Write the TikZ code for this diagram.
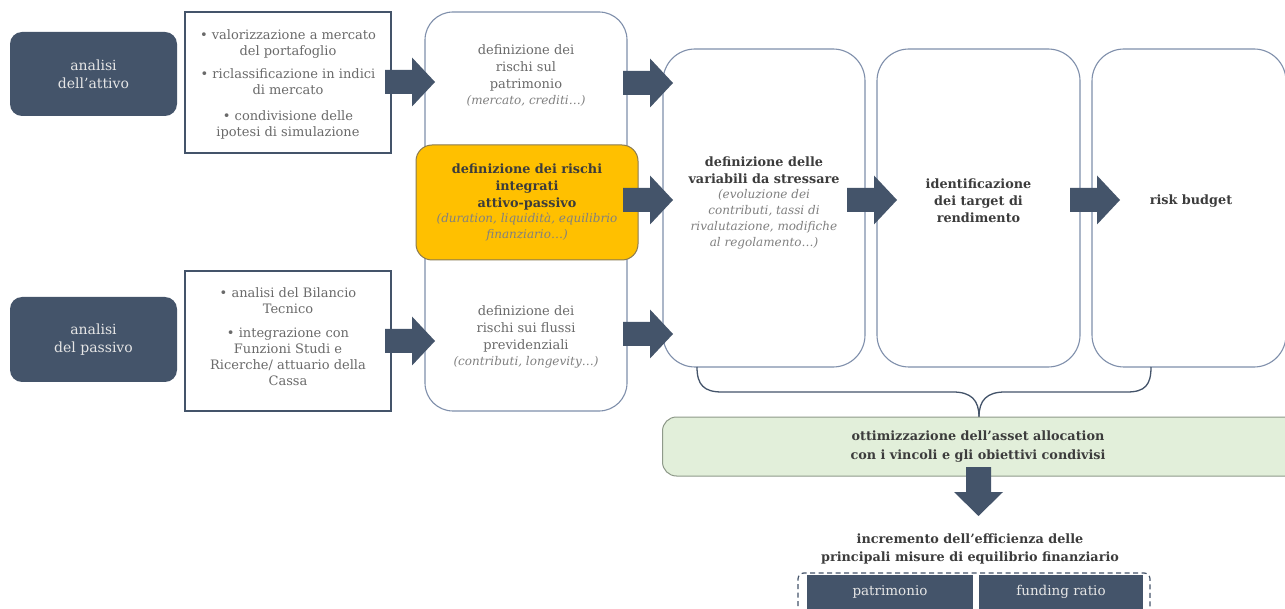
\documentclass[tikz,border=0pt]{standalone}
\usepackage{fontspec}
\setmainfont{DejaVu Serif}
\definecolor{slate}{HTML}{44546A}
\definecolor{boxblue}{HTML}{7F8FAB}
\definecolor{txtgray}{HTML}{6A6A6A}
\definecolor{itgray}{HTML}{808080}
\definecolor{boldtxt}{HTML}{3C3C3C}
\definecolor{orangefill}{HTML}{FFC000}
\definecolor{orangeline}{HTML}{8A7A50}
\definecolor{greenfill}{HTML}{E2EFDA}
\definecolor{greenline}{HTML}{8F9A8A}
\definecolor{lighttxt}{HTML}{E6E6E6}
\newcommand{\rarr}[2]{\fill[slate] (#1-50,#2-12) -- (#1-23,#2-12) -- (#1-23,#2-24.5) -- (#1,#2) -- (#1-23,#2+24.5) -- (#1-23,#2+12) -- (#1-50,#2+12) -- cycle;}
\newcommand{\darr}[2]{\fill[slate] (#1-12.5,#2-49) -- (#1+12.5,#2-49) -- (#1+12.5,#2-24) -- (#1+24.5,#2-24) -- (#1,#2) -- (#1-24.5,#2-24) -- (#1-12.5,#2-24) -- cycle;}
\tikzset{
  darkbox/.style={rectangle, rounded corners=12pt, fill=slate, draw=none, text=lighttxt, align=center,
    font=\fontsize{14}{18}\selectfont, inner sep=0pt},
  listbox/.style={rectangle, draw=slate, line width=1.3pt, fill=white, inner sep=0pt},
  listtext/.style={align=center, text=txtgray, font=\fontsize{13}{16}\selectfont, inner sep=0pt},
  colbox/.style={rectangle, draw=boxblue, line width=1.1pt, rounded corners=28pt, fill=white, inner sep=0pt},
  plaintext/.style={align=center, text=txtgray, font=\fontsize{13}{17}\selectfont, inner sep=0pt},
  boldtext/.style={align=center, text=boldtxt, font=\fontsize{12.8}{17}\selectfont\bfseries, inner sep=0pt},
  orangebox/.style={rectangle, rounded corners=16pt, fill=orangefill, draw=orangeline, line width=1pt, inner sep=0pt},
  greenbox/.style={rectangle, rounded corners=14pt, fill=greenfill, draw=greenline, line width=1pt, inner sep=0pt},
  brace/.style={draw=slate, line width=1.3pt},
  measbox/.style={rectangle, fill=slate, draw=none, text=lighttxt, font=\fontsize{13.5}{16}\selectfont, inner sep=0pt},
}
\newcommand{\itl}[1]{{\fontsize{12}{15.5}\selectfont\mdseries\itshape\color{itgray}#1}}
\begin{document}
\begin{tikzpicture}[x=1pt,y=-1pt]
\useasboundingbox (0,0) rectangle (1285,609);
\clip (0,0) rectangle (1285,609);
\fill[white] (0,0) rectangle (1285,609);

% left dark boxes
\node[darkbox, minimum width=167pt, minimum height=84pt] (attivo) at (93.5,74) {analisi\\dell’attivo};
\node[darkbox, minimum width=167pt, minimum height=85pt] (passivo) at (93.5,339.5) {analisi\\del passivo};

% bullet boxes
\node[listbox, minimum width=206pt, minimum height=141pt] (list1) at (288,82.5) {};
\node[listtext] (list1t) at (288,84) {• valorizzazione a mercato\\del portafoglio\\[7pt]
  • riclassificazione in indici\\di mercato\\[10pt]
  • condivisione delle\\ipotesi di simulazione};
\node[listbox, minimum width=206pt, minimum height=140pt] (list2) at (288,341) {};
\node[listtext] (list2t) at (288,337) {• analisi del Bilancio\\Tecnico\\[8pt]
  • integrazione con\\Funzioni Studi e\\Ricerche/ attuario della\\Cassa};

% column of risks
\node[colbox, minimum width=202pt, minimum height=399pt] (col) at (526,211.5) {};
\node[plaintext] (rpat) at (526,75) {definizione dei\\rischi sul\\patrimonio\\[-1pt]\itl{(mercato, crediti…)}};
\node[plaintext] (rflu) at (526,337) {definizione dei\\rischi sui flussi\\previdenziali\\[-1pt]\itl{(contributi, longevity…)}};
\node[orangebox, minimum width=222pt, minimum height=115pt] (integr) at (527,202.5) {};
\node[boldtext] (integrt) at (527,202) {definizione dei rischi\\integrati\\attivo-passivo\\[-2pt]
  \itl{(duration, liquidità, equilibrio}\\[-1pt]\itl{finanziario…)}};

% big boxes
\node[colbox, rounded corners=32pt, minimum width=202pt, minimum height=318pt] (var) at (764,208) {};
\node[boldtext] (vart) at (764,203) {definizione delle\\variabili da stressare\\[-2pt]
  \itl{(evoluzione dei}\\[-1pt]\itl{contributi, tassi di}\\[-1pt]\itl{rivalutazione, modifiche}\\[-1pt]\itl{al regolamento…)}};
\node[colbox, rounded corners=32pt, minimum width=203pt, minimum height=318pt] (target) at (978.5,208) {};
\node[boldtext] (targett) at (978.5,201) {identificazione\\dei target di\\rendimento};
\node[colbox, rounded corners=32pt, minimum width=194pt, minimum height=318pt] (budget) at (1189,208) {};
\node[boldtext] (budgett) at (1191,201) {risk budget};

% block arrows
\rarr{435}{82}
\rarr{435}{341}
\rarr{673}{83}
\rarr{673}{200}
\rarr{673}{334}
\rarr{897}{200}
\rarr{1120}{200}

% brace
\coordinate (bl) at (697,367);
\coordinate (br) at (1151,367);
\coordinate (btip) at (979,417);
\draw[brace] (bl) .. controls (697,385) and (704,392) .. (722,392) -- (953,392)
  .. controls (971,392) and (979,400) .. (btip);
\draw[brace] (btip) .. controls (979,400) and (987,392) .. (1005,392) -- (1127,392)
  .. controls (1145,392) and (1151,385) .. (br);

% green box
\node[greenbox, minimum width=640pt, minimum height=59pt, anchor=west] (opt) at (662,446.5) {};
\node[boldtext, font=\fontsize{12.8}{19}\selectfont\bfseries] (optt) at (978,447) {ottimizzazione dell’asset allocation\\con i vincoli e gli obiettivi condivisi};

\darr{978.5}{516}

% bottom
\node[boldtext, font=\fontsize{12.8}{18}\selectfont\bfseries] (incr) at (970,549) {incremento dell’efficienza delle\\principali misure di equilibrio finanziario};
\draw[draw=slate, line width=1.2pt, dash pattern=on 5pt off 3.5pt, rounded corners=6pt] (798,640) -- (798,573) -- (1150,573) -- (1150,640);
\node[measbox, minimum width=166pt, minimum height=40pt, anchor=north west] (patr) at (807,575) {};
\node[measbox] at (890,592) {patrimonio};
\node[measbox, minimum width=164pt, minimum height=40pt, anchor=north west] (fund) at (979,575) {};
\node[measbox] at (1061,592) {funding ratio};
\end{tikzpicture}
\end{document}
